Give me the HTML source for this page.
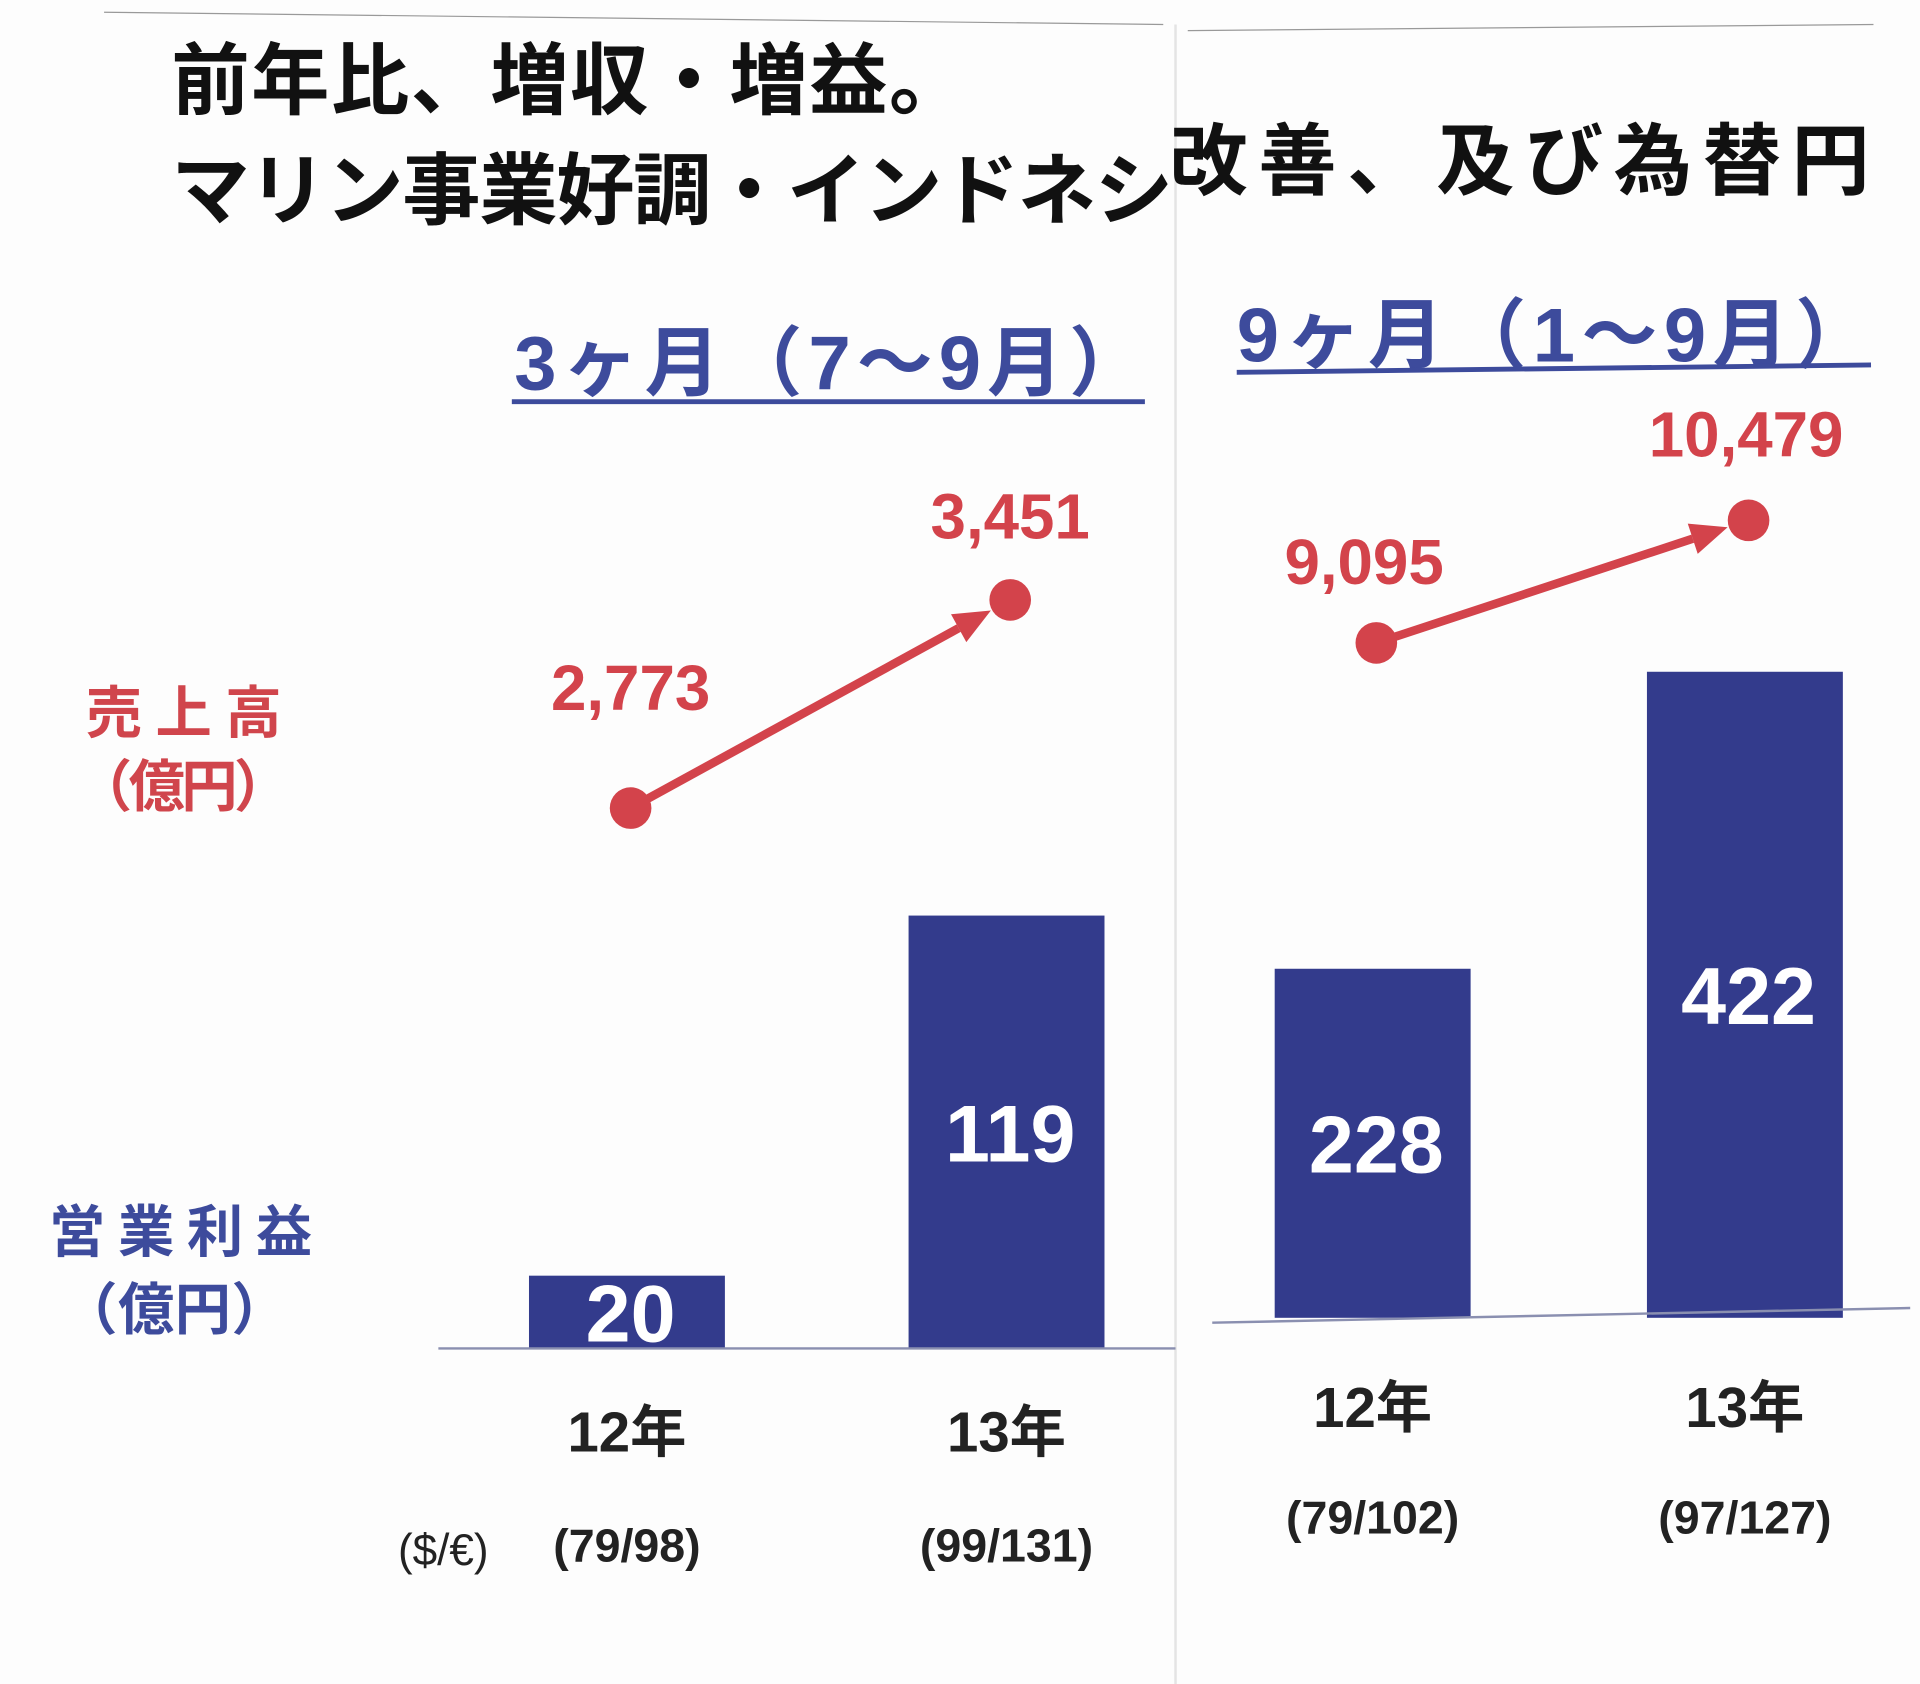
<!DOCTYPE html>
<html><head><meta charset="utf-8"><style>
html,body{margin:0;padding:0;background:#fff;}
svg{display:block;}
text{font-family:"Liberation Sans","Noto Sans CJK JP",sans-serif;font-weight:bold;}
</style></head><body>
<svg id="chart" width="1920" height="1684" viewBox="0 0 1568 1375" preserveAspectRatio="none" xmlns="http://www.w3.org/2000/svg">
<rect x="0" y="0" width="1568" height="1375" fill="#fdfdfd"/>
<line x1="85" y1="10" x2="950" y2="20" stroke="#999" stroke-width="1"/>
<line x1="970" y1="25" x2="1530" y2="20" stroke="#999" stroke-width="1"/>
<line x1="960" y1="20" x2="960" y2="1375" stroke="#e4e4e4" stroke-width="2"/>
<text x="140" y="88" font-size="64" fill="#111" textLength="650">前年比、増収・増益。</text>
<text x="140" y="178" font-size="64" fill="#111" textLength="818">マリン事業好調・インドネシ</text>
<text x="955" y="154" font-size="64" fill="#111" textLength="572">改善、及び為替円</text>
<text x="420" y="318" font-size="62" fill="#3d4b9c" textLength="515">3ヶ月（7～9月）</text>
<line x1="418" y1="328" x2="935" y2="328" stroke="#3d4b9c" stroke-width="4"/>
<text x="1010" y="295" font-size="62" fill="#3d4b9c" textLength="518">9ヶ月（1～9月）</text>
<line x1="1010" y1="304" x2="1528" y2="298" stroke="#3d4b9c" stroke-width="4"/>
<text x="70" y="598" font-size="46" fill="#d0454c" textLength="160">売上高</text>
<text x="62" y="658" font-size="46" fill="#d0454c" textLength="175">（億円）</text>
<text x="40" y="1022" font-size="46" fill="#3d4b9c" textLength="215">営業利益</text>
<text x="50" y="1085" font-size="46" fill="#3d4b9c" textLength="185">（億円）</text>
<text x="325" y="1278" font-size="36" fill="#222" style="font-weight:normal">($/€)</text>
<g id="plot"></g>
</svg>
<script>
const categories = ["12年", "13年"];
const ratesLeft = ["(79/98)", "(99/131)"];
const ratesRight = ["(79/102)", "(97/127)"];
const profitLeft = [20, 119];
const profitRight = [228, 422];
const salesLeft = [2773, 3451];
const salesRight = [9095, 10479];

const NS = "http://www.w3.org/2000/svg";
const plot = document.getElementById("plot");
const BLUE = "#333b8c", RED = "#d3434b";
function mk(tag, attrs, txt) {
  const e = document.createElementNS(NS, tag);
  for (const k in attrs) e.setAttribute(k, attrs[k]);
  if (txt !== undefined) e.textContent = txt;
  plot.appendChild(e);
  return e;
}
const fmt = v => v.toLocaleString("en-US");

const panels = [
  {key:"3m", xs:[512,822], base:1101, barK:2.97, sA:1355, sK:0.2507, axis:[358,960,1101,1101],
   profit:profitLeft, sales:salesLeft, rates:ratesLeft, yearY:1185, rateY:1275,
   lblOff:[[0,-70],[0,-50]]},
  {key:"9m", xs:[1121,1425], base:1076, barK:1.25, sA:1182.5, sK:0.0723, axis:[990,1560,1080,1068],
   profit:profitRight, sales:salesRight, rates:ratesRight, yearY:1165, rateY:1252,
   lblOff:[[-10,-48],[-2,-52]]}
];

panels.forEach(p => {
  const yBar = v => p.base - v * p.barK;
  const ySales = v => p.sA - v * p.sK;
  categories.forEach((c, i) => {
    const x = p.xs[i], top = yBar(p.profit[i]);
    let r = mk("rect", {x:x-80, y:top, width:160, height:p.base-top, fill:BLUE});
    
    
    let t = mk("text", {x:x+3, y:(top+p.base)/2+24, "font-size":66, fill:"#fff", "text-anchor":"middle"}, fmt(p.profit[i]));
    
    
    let yl = mk("text", {x:x, y:p.yearY, "font-size":46, fill:"#222", "text-anchor":"middle"}, c);
    
    
    let rl = mk("text", {x:x, y:p.rateY, "font-size":38, fill:"#222", "text-anchor":"middle"}, p.rates[i]);
    
    
  });
  let ax = mk("line", {x1:p.axis[0], x2:p.axis[1], y1:p.axis[2], y2:p.axis[3], stroke:"#8a8fb0", "stroke-width":2});
  
  
  const x0 = p.xs[0]+3, y0 = ySales(p.sales[0]);
  const x1 = p.xs[1]+3, y1 = ySales(p.sales[1]);
  const dx = x1-x0, dy = y1-y0, L = Math.hypot(dx,dy), ux = dx/L, uy = dy/L;
  const tipX = x1 - ux*18, tipY = y1 - uy*18;
  const bX = tipX - ux*30, bY = tipY - uy*30;
  let ln = mk("line", {x1:x0, y1:y0, x2:bX, y2:bY, stroke:RED, "stroke-width":7});
  
  
  let ah = mk("polygon", {points:`${tipX},${tipY} ${bX-uy*13},${bY+ux*13} ${bX+uy*13},${bY-ux*13}`, fill:RED});
  
  
  p.sales.forEach((v, i) => {
    const cx = p.xs[i]+3, cy = ySales(v);
    let c = mk("circle", {cx:cx, cy:cy, r:17, fill:RED});
    
    
    let t = mk("text", {x:cx+p.lblOff[i][0], y:cy+p.lblOff[i][1]+(i===0&&p.key==="3m"?-10:0), "font-size":52, fill:RED, "text-anchor":"middle"}, fmt(v));
    
    
  });
});
</script>
</body></html>
